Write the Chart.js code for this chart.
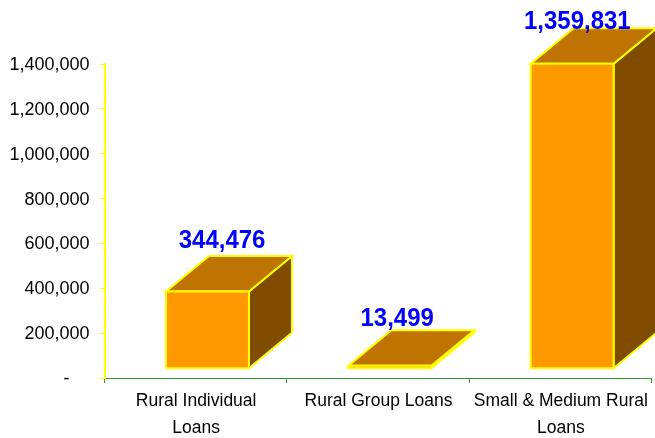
<!DOCTYPE html>
<html>
<head>
<meta charset="utf-8">
<style>html,body{margin:0;padding:0;background:#fff}canvas{display:block}</style>
<script src="https://cdn.jsdelivr.net/npm/chart.js@4"></script>
</head>
<body>
<canvas id="c" width="655" height="438"></canvas>
<script>
const categories = [['Rural Individual','Loans'],'Rural Group Loans',['Small & Medium Rural','Loans']];
const loanValues = [344476, 13499, 1359831];
const valueLabels = ['344,476','13,499','1,359,831'];
const yTickLabels = ['-    ','200,000','400,000','600,000','800,000','1,000,000','1,200,000','1,400,000'];

const depth = {dx: 43, dy: 35.5, shiftX: 11.8, shiftY: -9.3};
const labelNudge = [[14.6, 7.6], [7.4, 4.2], [5.2, -1.1]];

const fake3d = {
  id: 'fake3d',
  beforeDatasetsDraw(chart) {
    const ctx = chart.ctx;
    ctx.save();
    ctx.translate(depth.shiftX, depth.shiftY);
    ctx.lineWidth = 2;
    ctx.strokeStyle = '#FFFF00';
    ctx.lineJoin = 'miter';
    chart.getDatasetMeta(0).data.forEach(bar => {
      const l = bar.x - bar.width / 2, r = bar.x + bar.width / 2;
      const t = bar.y, b = bar.base;
      const face = (pts, fill) => {
        ctx.beginPath();
        pts.forEach((p, i) => i ? ctx.lineTo(p[0], p[1]) : ctx.moveTo(p[0], p[1]));
        ctx.closePath();
        ctx.fillStyle = fill;
        ctx.fill();
        ctx.stroke();
      };
      face([[r, t], [r + depth.dx, t - depth.dy], [r + depth.dx, b - depth.dy], [r, b]], '#804D00');
      face([[l, t], [l + depth.dx, t - depth.dy], [r + depth.dx, t - depth.dy], [r, t]], '#BF7300');
    });
  },
  afterDatasetsDraw(chart) {
    const ctx = chart.ctx;
    const bars = chart.getDatasetMeta(0).data;
    bars.forEach(bar => {
      ctx.strokeRect(bar.x - bar.width / 2, bar.y, bar.width, bar.base - bar.y);
    });
    ctx.restore();
    ctx.font = 'bold 24px "Liberation Sans"';
    ctx.fillStyle = '#0000FF';
    ctx.textAlign = 'center';
    ctx.textBaseline = 'alphabetic';
    bars.forEach((bar, i) => {
      const x = bar.x + depth.shiftX + labelNudge[i][0];
      const y = bar.y + depth.shiftY - depth.dy - labelNudge[i][1];
      ctx.save();
      ctx.translate(x, y);
      ctx.scale(1, 1.1);
      ctx.fillText(valueLabels[i], 0, 0);
      ctx.restore();
    });
  }
};

new Chart(document.getElementById('c'), {
  type: 'bar',
  data: {
    labels: categories,
    datasets: [{
      data: loanValues,
      backgroundColor: '#FF9900',
      borderWidth: 0,
      barPercentage: 0.455,
      categoryPercentage: 1,
      clip: false
    }]
  },
  options: {
    responsive: false,
    animation: false,
    layout: {padding: {top: 64, right: 3.5, left: 0, bottom: 0}},
    plugins: {legend: {display: false}, title: {display: false}, tooltip: {enabled: false}},
    scales: {
      x: {
        grid: {drawOnChartArea: false, color: '#339933', tickLength: 5, lineWidth: 1},
        border: {color: '#339933', width: 1},
        ticks: {
          color: '#000',
          padding: 5,
          labelOffset: 0.5,
          maxRotation: 0,
          minRotation: 0,
          autoSkip: false,
          font: {family: '"Liberation Sans"', size: 17.5, lineHeight: 1.52}
        },
        afterFit(s) { s.height = 60; }
      },
      y: {
        min: 0,
        max: 1400000,
        grid: {drawOnChartArea: false, color: '#FFFF00', tickLength: 5, lineWidth: 1},
        border: {color: '#FFFF00', width: 2},
        ticks: {
          color: '#000',
          padding: 10,
          labelOffset: 1,
          stepSize: 200000,
          autoSkip: false,
          font: {family: '"Liberation Sans"', size: 18},
          callback(v, i) { return yTickLabels[i]; }
        },
        afterFit(s) { s.width = 104.5; }
      }
    }
  },
  plugins: [fake3d]
});
</script>
</body>
</html>
